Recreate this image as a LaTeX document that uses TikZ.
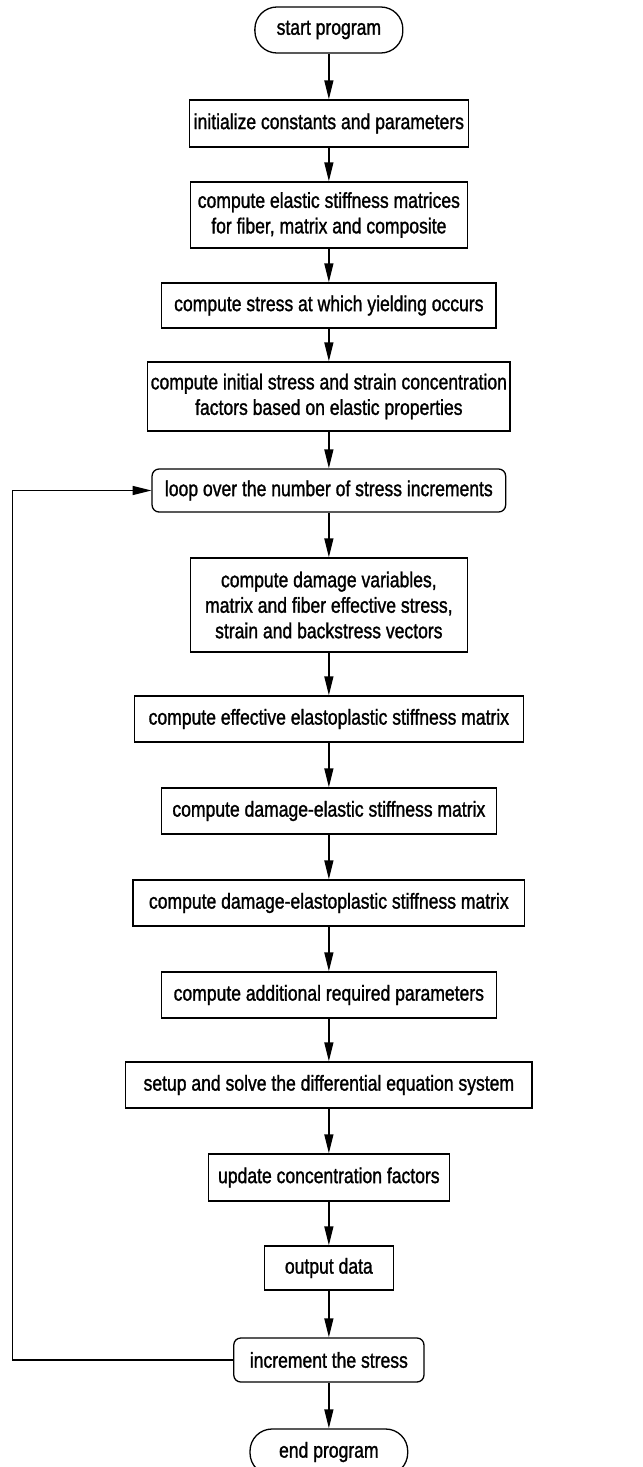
\documentclass[tikz,border=0pt]{standalone}
\usepackage{fontspec}
\setmainfont{Liberation Sans}[RawFeature={embolden=1.5}]
\usetikzlibrary{arrows.meta}
\begin{document}
\begin{tikzpicture}[x=1pt,y=-1pt,xscale=0.8128,
  every node/.style={font=\fontsize{21.6}{25.5}\selectfont, align=center, inner sep=0pt, transform shape},
  box/.style={draw, line width=1.3pt, rectangle},
  rbox/.style={draw, line width=1.3pt, rounded corners=7pt},
  term/.style={draw, line width=1.3pt, rounded corners=22pt},
  arr/.style={line width=1.3pt, -{Triangle[length=19pt,width=9pt]}}
]
\useasboundingbox (-2.1,0) rectangle (787.8,1467);
\fill[white] (-2.1,0) rectangle (787.8,1467);

\node[term, minimum width=182pt, minimum height=46pt] (start) at (402.5,30) {start program};
\node[box, minimum width=343pt, minimum height=47pt] (init) at (402.5,123.5) {initialize constants and parameters};
\node[box, minimum width=341pt, minimum height=66pt] (elastic) at (402.5,215) {compute elastic stiffness matrices\\for fiber, matrix and composite};
\node[box, minimum width=411pt, minimum height=45pt] (yield) at (402.5,305.5) {compute stress at which yielding occurs};
\node[box, minimum width=446pt, minimum height=69pt] (initial) at (402.5,396.5) {compute initial stress and strain concentration\\factors based on elastic properties};
\node[rbox, minimum width=435pt, minimum height=43pt] (loop) at (402.5,490.5) {loop over the number of stress increments};
\node[box, minimum width=341pt, minimum height=94pt] (damage) at (402.5,605) {compute damage variables,\\matrix and fiber effective stress,\\strain and backstress vectors};
\node[box, minimum width=479pt, minimum height=46pt] (eff) at (402.5,719) {compute effective elastoplastic stiffness matrix};
\node[box, minimum width=412pt, minimum height=46pt] (del) at (402.5,811) {compute damage-elastic stiffness matrix};
\node[box, minimum width=482pt, minimum height=46pt] (dep) at (402.5,903) {compute damage-elastoplastic stiffness matrix};
\node[box, minimum width=412pt, minimum height=46pt] (add) at (402.5,995) {compute additional required parameters};
\node[box, minimum width=500pt, minimum height=46pt] (setup) at (402.5,1085) {setup and solve the differential equation system};
\node[box, minimum width=297pt, minimum height=47pt] (update) at (402.5,1177.5) {update concentration factors};
\node[box, minimum width=159pt, minimum height=44pt] (output) at (402.5,1268) {output data};
\node[rbox, minimum width=234pt, minimum height=44pt] (inc) at (402.5,1360) {increment the stress};
\node[term, minimum width=194pt, minimum height=46pt] (end) at (402.5,1452) {end program};

\coordinate (lc) at (13,1360);

\draw[arr] (start.south) -- (init.north);
\draw[arr] (init.south) -- (elastic.north);
\draw[arr] (elastic.south) -- (yield.north);
\draw[arr] (yield.south) -- (initial.north);
\draw[arr] (initial.south) -- (loop.north);
\draw[arr] (loop.south) -- (damage.north);
\draw[arr] (damage.south) -- (eff.north);
\draw[arr] (eff.south) -- (del.north);
\draw[arr] (del.south) -- (dep.north);
\draw[arr] (dep.south) -- (add.north);
\draw[arr] (add.south) -- (setup.north);
\draw[arr] (setup.south) -- (update.north);
\draw[arr] (update.south) -- (output.north);
\draw[arr] (output.south) -- (inc.north);
\draw[arr] (inc.south) -- (end.north);
\draw[arr] (inc.west) -- (lc) |- (loop.west);
\end{tikzpicture}
\end{document}
